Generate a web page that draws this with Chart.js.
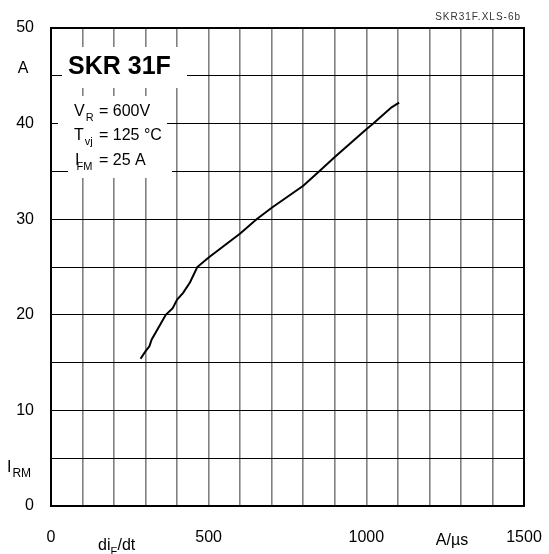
<!DOCTYPE html>
<html>
<head>
<meta charset="utf-8">
<title>SKR 31F - IRM vs diF/dt</title>
<script src="https://cdn.jsdelivr.net/npm/chart.js@4.4.1/dist/chart.umd.min.js"></script>
<style>
  html, body { margin: 0; padding: 0; background: #fff; }
  #wrap { width: 549px; height: 554px; }
</style>
</head>
<body>
<div id="wrap"><canvas id="c" width="549" height="554"></canvas></div>
<script>
// curve (diF/dt in A/us, IRM in A)
var didt = [284, 300, 312, 319, 364, 386, 400, 419, 441, 464, 500, 600, 652, 700, 800, 850, 900, 1000, 1022, 1080, 1104];
var irm  = [15.4, 16.2, 16.7, 17.4, 20.0, 20.7, 21.6, 22.3, 23.4, 25.0, 26.0, 28.5, 30.0, 31.2, 33.5, 35.0, 36.5, 39.4, 40.0, 41.7, 42.2];

var xLabels = [0, 500, 1000, 1500];
var yLabels = [0, 10, 20, 30, 40, 50];

var FONT = "'Liberation Sans', Arial, sans-serif";

var points = didt.map(function (x, i) { return { x: x, y: irm[i] }; });

// text with a subscript, returns end x
function subText(ctx, main, sub, x, y, size, subSize, subDx) {
  ctx.font = size + "px " + FONT;
  ctx.fillText(main, x, y);
  var w = ctx.measureText(main).width;
  ctx.font = subSize + "px " + FONT;
  ctx.fillText(sub, x + w + (subDx || 0), y + 5);
  return x + w + (subDx || 0) + ctx.measureText(sub).width;
}

var decor = {
  id: "decor",
  afterDraw: function (chart) {
    var ctx = chart.ctx, a = chart.chartArea;
    ctx.save();

    // white label boxes over the grid
    ctx.fillStyle = "#fff";
    ctx.fillRect(62, 47, 125, 41);
    ctx.fillRect(58, 96, 109, 27);
    ctx.fillRect(58, 122, 109, 27);
    ctx.fillRect(68, 148, 104, 30);

    ctx.fillStyle = "#000";
    ctx.textBaseline = "alphabetic";
    ctx.textAlign = "left";
    ctx.font = "bold 25px " + FONT;
    ctx.fillText("SKR 31F", 68, 74);

    subText(ctx, "V", "R", 74, 116, 16, 11, 1);
    ctx.font = "16px " + FONT;
    ctx.fillText("= 600V", 99, 116);
    subText(ctx, "T", "vj", 74, 140, 16, 11, 1);
    ctx.font = "16px " + FONT;
    ctx.fillText("= 125 \u00b0C", 99, 140);
    subText(ctx, "I", "FM", 75, 165, 16, 11, -3);
    ctx.font = "16px " + FONT;
    ctx.fillText("= 25 A", 99, 165);

    // axis titles
    ctx.font = "16px " + FONT;
    ctx.textAlign = "center";
    ctx.fillText("A", 23, 73);
    ctx.textAlign = "left";
    subText(ctx, "I", "RM", 7, 472, 16, 12, 1);
    subText(ctx, "di", "F", 98, 550, 16, 11, 0);
    ctx.font = "16px " + FONT;
    ctx.fillText("/dt", 98 + ctx.measureText("di").width + 7, 550);
    ctx.textAlign = "center";
    ctx.fillText("A/\u00b5s", 452, 545);

    // file tag
    ctx.font = "10px " + FONT;
    ctx.fillStyle = "#333";
    ctx.textAlign = "right";
    ctx.letterSpacing = "1px";
    ctx.fillText("SKR31F.XLS-6b", 521, 20);
    ctx.letterSpacing = "0px";

    // frame
    ctx.strokeStyle = "#000";
    ctx.lineWidth = 2;
    ctx.strokeRect(a.left, a.top, a.right - a.left, a.bottom - a.top);
    ctx.restore();
  }
};

new Chart(document.getElementById("c"), {
  type: "scatter",
  data: {
    datasets: [{
      data: points,
      showLine: true,
      borderColor: "#000",
      borderWidth: 2,
      pointRadius: 0,
      tension: 0
    }]
  },
  options: {
    responsive: false,
    animation: false,
    events: [],
    layout: { padding: { top: 28, right: 25, left: 0, bottom: 0 } },
    plugins: { legend: { display: false }, tooltip: { enabled: false } },
    scales: {
      x: {
        type: "linear",
        min: 0,
        max: 1500,
        afterFit: function (s) {
          s.height = 48;
          s.paddingLeft = 0;
          s.paddingRight = 0;
        },
        ticks: {
          stepSize: 100,
          autoSkip: false,
          maxRotation: 0,
          padding: 22,
          color: "#000",
          font: { size: 16, family: FONT },
          callback: function (v) { return xLabels.indexOf(v) >= 0 ? String(v) : ""; }
        },
        grid: { color: "#808080", lineWidth: 1.6, drawTicks: false },
        border: { display: true, color: "#000", width: 2 }
      },
      y: {
        type: "linear",
        min: 0,
        max: 50,
        afterFit: function (s) {
          s.width = 51;
          s.paddingTop = 0;
          s.paddingBottom = 0;
        },
        ticks: {
          stepSize: 5,
          autoSkip: false,
          padding: 17,
          color: "#000",
          font: { size: 16, family: FONT },
          callback: function (v) { return yLabels.indexOf(v) >= 0 ? String(v) : ""; }
        },
        grid: { color: "#000", lineWidth: 1, drawTicks: false },
        border: { display: true, color: "#000", width: 2 }
      }
    }
  },
  plugins: [decor]
});
</script>
</body>
</html>
